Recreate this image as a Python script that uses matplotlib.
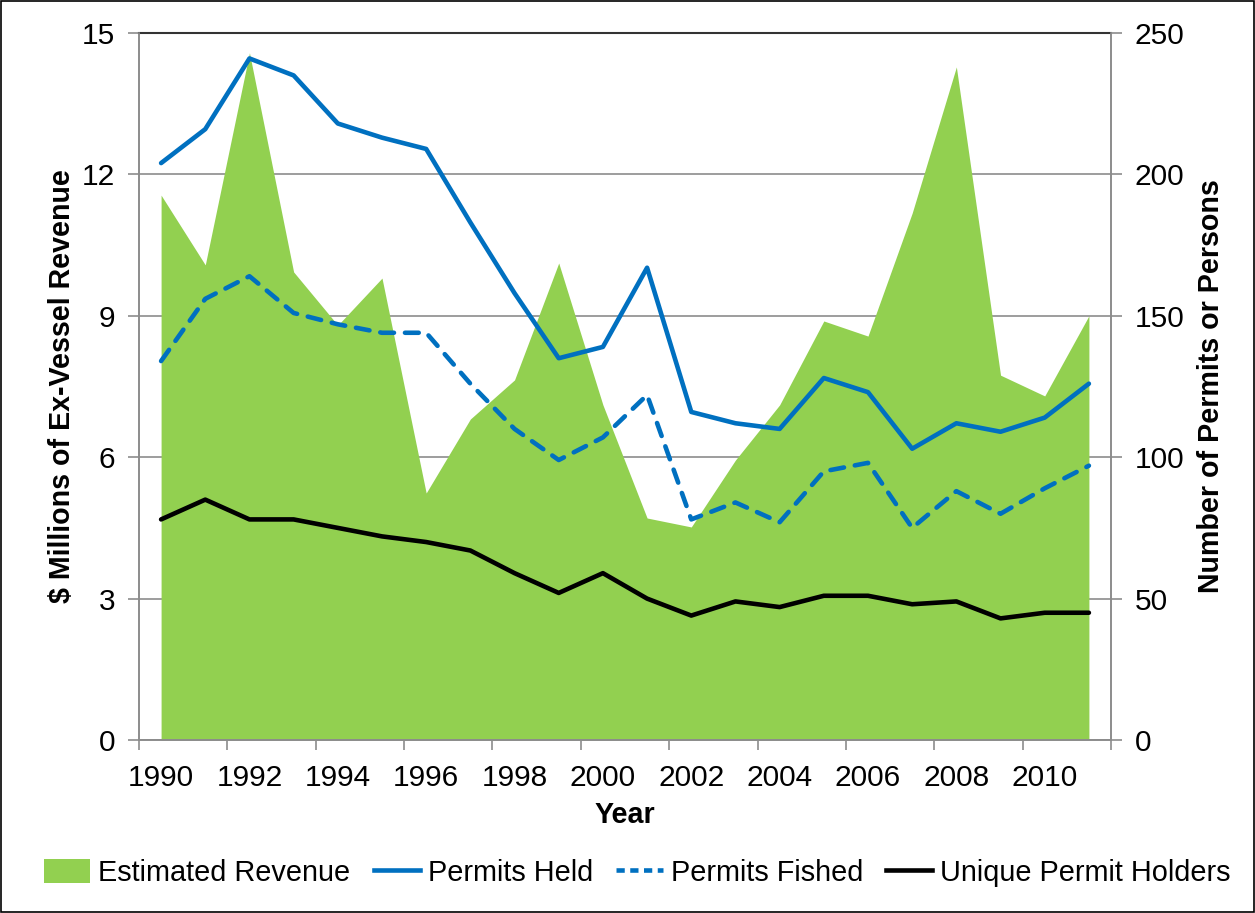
import numpy as np
import matplotlib.pyplot as plt
from matplotlib.patches import Patch, Rectangle
from matplotlib.lines import Line2D

plt.rcParams['font.family'] = ['Liberation Sans', 'DejaVu Sans']

years = list(range(1990, 2012))
# $ millions, left axis
revenue = [11.56, 10.08, 14.58, 9.93, 8.8, 9.8, 5.24, 6.81, 7.64, 10.12, 7.11,
           4.71, 4.52, 5.94, 7.11, 8.89, 8.57, 11.18, 14.28, 7.74, 7.3, 9.0]
# counts, right axis
permitsHeld = [204, 216, 241, 235, 218, 213, 209, 183, 158, 135, 139,
               167, 116, 112, 110, 128, 123, 103, 112, 109, 114, 126]
permitsFished = [134, 156, 164, 151, 147, 144, 144, 126, 110, 99, 107,
                 122, 78, 84, 77, 95, 98, 75, 88, 80, 89, 97]
uniqueHolders = [78, 85, 78, 78, 75, 72, 70, 67, 59, 52, 59,
                 50, 44, 49, 47, 51, 51, 48, 49, 43, 45, 45]

green = '#92D050'
blue = '#0070C0'
gray = '#8c8c8c'
fs = 21.5
fsLab = 20.6

x = np.arange(len(years))

fig = plt.figure(figsize=(12.55, 9.13), dpi=100)
ax = fig.add_axes([139/1255, 1-740/913, 972/1255, 707/913])

ax.fill_between(x, revenue, color=green, lw=0, zorder=2)
ax.set_xlim(-0.5, len(years)-0.5)
ax.set_ylim(0, 15)
ax.set_yticks(range(0, 16, 3))
ax.yaxis.grid(True, color=gray, lw=1.2)
ax.set_axisbelow(True)

# tick marks between categories, labels on every 2nd year
ax.set_xticks(np.arange(-0.5, len(years), 2))
ax.tick_params(axis='x', which='major', length=7, width=1.2, color=gray, labelbottom=False)
ax.set_xticks(x[::2], minor=True)
ax.set_xticklabels([str(y) for y in years[::2]], minor=True)
ax.tick_params(axis='x', which='minor', length=0, pad=17, labelsize=fs)
ax.tick_params(axis='y', length=8, width=1.2, color=gray, labelsize=fs, pad=9)

for s in ['left', 'bottom', 'right']:
    ax.spines[s].set_color(gray)
    ax.spines[s].set_linewidth(1.2)
ax.spines['top'].set_color('#333333')
ax.spines['top'].set_linewidth(1.5)

ax.set_ylabel('$ Millions of Ex-Vessel Revenue', fontsize=fsLab, fontweight='bold')
ax.yaxis.set_label_coords(-0.065, 0.5)
ax.set_xlabel('Year', fontsize=fsLab, fontweight='bold')
ax.xaxis.set_label_coords(0.5, -0.086)

ax2 = ax.twinx()
ax2.plot(x, permitsHeld, color=blue, lw=3.3, solid_capstyle='round')
ax2.plot(x, permitsFished, color=blue, lw=3.3, linestyle=(0, (3, 2.4)), dash_capstyle='round')
ax2.plot(x, uniqueHolders, color='black', lw=3.3, solid_capstyle='round')
ax2.set_ylim(0, 250)
ax2.set_yticks(range(0, 251, 50))
ax2.tick_params(axis='y', length=8, width=1.2, color=gray, labelsize=fs, pad=9)
for s in ['left', 'bottom', 'right']:
    ax2.spines[s].set_color(gray)
    ax2.spines[s].set_linewidth(1.2)
ax2.spines['top'].set_visible(False)
ax2.set_ylabel('Number of Permits or Persons', fontsize=fsLab, fontweight='bold', rotation=90)
ax2.yaxis.set_label_coords(1.0885, 0.5)

handles = [Patch(facecolor=green, edgecolor='none'),
           Line2D([], [], color=blue, lw=3.3),
           Line2D([], [], color=blue, lw=3.3, linestyle=(0, (1.8, 1.2))),
           Line2D([], [], color='black', lw=3.3)]
labels = ['Estimated Revenue', 'Permits Held', 'Permits Fished', 'Unique Permit Holders']
fig.legend(handles, labels, loc='center', bbox_to_anchor=(0.508, 1-873/913), ncol=4,
           frameon=False, fontsize=20.8, handlelength=1.6, handleheight=0.9,
           handletextpad=0.28, columnspacing=0.8)

fig.patches.append(Rectangle((0.0008, 0.001), 0.9984, 0.998, transform=fig.transFigure,
                             fill=False, edgecolor='black', lw=1.2))

fig.savefig('out.png', dpi=100)
